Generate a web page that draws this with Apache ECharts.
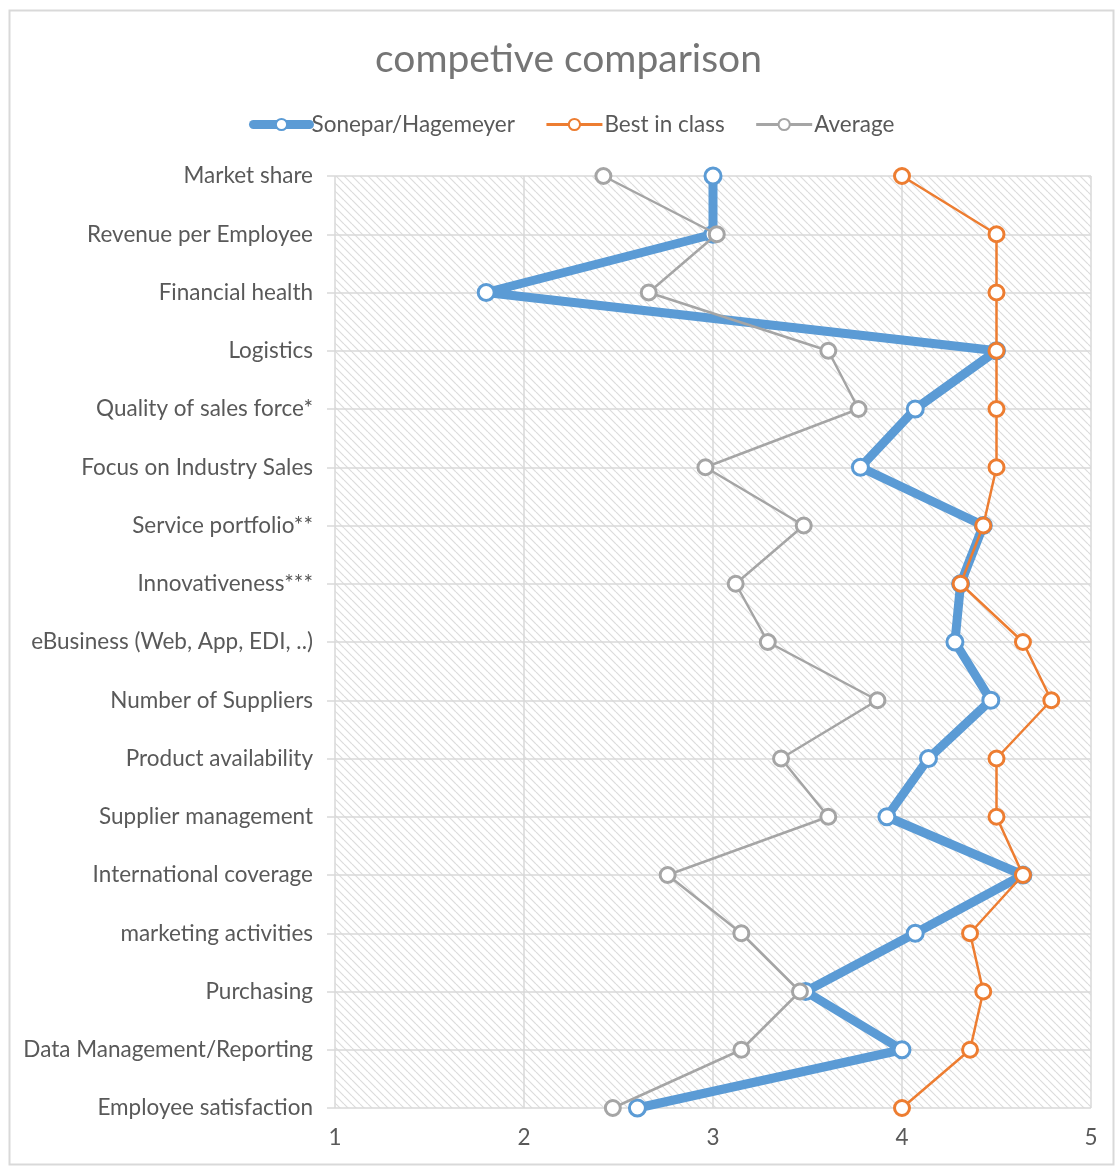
<!DOCTYPE html>
<html>
<head>
<meta charset="utf-8">
<script src="https://cdn.jsdelivr.net/npm/echarts@6/dist/echarts.min.js"></script>
<style>
html,body{margin:0;padding:0;background:#fff;}
#chart{width:1115px;height:1166px;}
</style>
</head>
<body>
<div id="chart"></div>
<script>
const categories = [
  "Market share", "Revenue per Employee", "Financial health", "Logistics",
  "Quality of sales force*", "Focus on Industry Sales", "Service portfolio**",
  "Innovativeness***", "eBusiness (Web, App, EDI, ..)", "Number of Suppliers",
  "Product availability", "Supplier management", "International coverage",
  "marketing activities", "Purchasing", "Data Management/Reporting",
  "Employee satisfaction"
];
const sonepar = [3.0, 3.0, 1.8, 4.5, 4.07, 3.78, 4.43, 4.31, 4.28, 4.47, 4.14, 3.92, 4.64, 4.07, 3.49, 4.0, 2.6];
const bestInClass = [4.0, 4.5, 4.5, 4.5, 4.5, 4.5, 4.43, 4.31, 4.64, 4.79, 4.5, 4.5, 4.64, 4.36, 4.43, 4.36, 4.0];
const average = [2.42, 3.02, 2.66, 3.61, 3.77, 2.96, 3.48, 3.12, 3.29, 3.87, 3.36, 3.61, 2.76, 3.15, 3.46, 3.15, 2.47];
const xTicks = [1, 2, 3, 4, 5];

const FONT = 'Lato, "Open Sans", sans-serif';
const TXT = '#595959';
const GRIDC = '#d9d9d9';

const pc = document.createElement('canvas');
pc.width = 8; pc.height = 8;
const ctx = pc.getContext('2d');
ctx.fillStyle = '#ffffff';
ctx.fillRect(0, 0, 8, 8);
ctx.strokeStyle = '#dcdcdc';
ctx.lineWidth = 1.2;
for (const o of [-8, 0, 8]) {
  ctx.beginPath();
  ctx.moveTo(o, 0);
  ctx.lineTo(o + 8, 8);
  ctx.stroke();
}

const chart = echarts.init(document.getElementById('chart'));
function mk(name, data, color, width, size, z) {
  return {
    name: name, type: 'line', data: data, z: z,
    symbol: 'circle', symbolSize: size,
    lineStyle: { color: color, width: width },
    itemStyle: { color: '#ffffff', borderColor: color, borderWidth: 3 },
    emphasis: { disabled: true }
  };
}
chart.setOption({
  animation: false,
  backgroundColor: '#ffffff',
  title: {
    text: 'competive comparison',
    left: 370, top: 35,
    textStyle: { fontFamily: FONT, fontSize: 39, fontWeight: 'normal', color: '#757575' }
  },
  legend: {
    top: 108, left: 244,
    itemWidth: 56, itemHeight: 14, itemGap: 30,
    textStyle: { fontFamily: FONT, fontSize: 22.5, color: TXT, padding: [0, 0, 0, -3] },
    data: [
      { name: 'Sonepar/Hagemeyer', lineStyle: { width: 9, cap: 'round' } },
      { name: 'Best in class', lineStyle: { width: 3 } },
      { name: 'Average', lineStyle: { width: 3 } }
    ]
  },
  grid: {
    left: 335, right: 24, top: 176, bottom: 58,
    show: true, borderWidth: 0,
    backgroundColor: { image: pc, repeat: 'repeat' }
  },
  xAxis: {
    type: 'value', min: xTicks[0], max: xTicks[xTicks.length - 1], interval: 1,
    axisLine: { show: false }, axisTick: { show: false },
    splitLine: { show: true, lineStyle: { color: GRIDC, width: 1.5 } },
    axisLabel: { fontFamily: FONT, fontSize: 22.5, color: TXT, margin: 18 }
  },
  yAxis: {
    type: 'category', data: categories, inverse: true, boundaryGap: false,
    axisLine: { show: false },
    axisTick: { show: true, length: 8, lineStyle: { color: GRIDC, width: 1.5 } },
    splitLine: { show: true, lineStyle: { color: GRIDC, width: 1.5 } },
    axisLabel: { fontFamily: FONT, fontSize: 22.5, color: TXT, margin: 22 }
  },
  graphic: [{
    type: 'rect', left: 7, top: 8, z: -10, silent: true,
    shape: { width: 1104, height: 1154 },
    style: { fill: 'none', stroke: '#d9d9d9', lineWidth: 2 }
  }],
  series: [
    mk('Sonepar/Hagemeyer', sonepar, '#5b9bd5', 9, 16, 2),
    mk('Best in class', bestInClass, '#ed7d31', 2.5, 15, 3),
    mk('Average', average, '#a5a5a5', 2.5, 15, 4)
  ]
});
</script>
</body>
</html>
